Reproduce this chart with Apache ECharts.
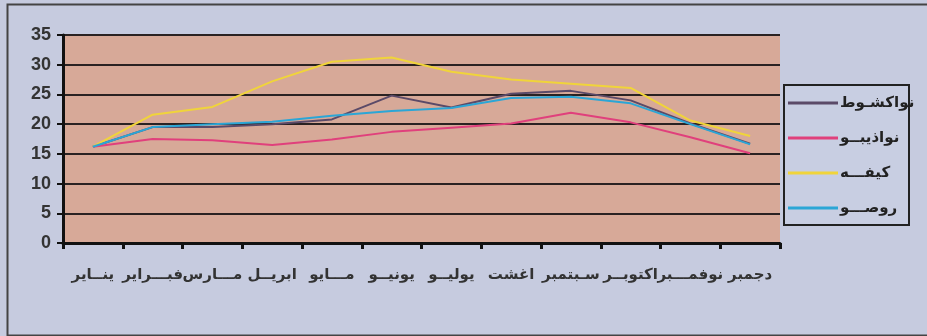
<!DOCTYPE html>
<html><head><meta charset="utf-8">
<script src="https://cdn.jsdelivr.net/npm/echarts@6/dist/echarts.min.js"></script>
<style>html,body{margin:0;padding:0;background:#c6cbdf;}#c{width:927px;height:336px;}</style>
</head><body><div id="c"></div>
<script>
const months = ['ينــاير','فبـــراير','مـــارس','ابريــل','مـــايو','يونيــو','يوليــو','اغشت','سـبتمبر','اكتوبــر','نوفمـــبر','دجمبر'];
const seriesNames = ['نواكشـوط','نواذيبــو','كيفـــه','روصـــو'];
const nouakchott = [16.2, 19.5, 19.5, 20.0, 20.8, 24.8, 22.8, 25.1, 25.6, 24.0, 20.1, 16.7];
const nouadhibou = [16.2, 17.5, 17.3, 16.5, 17.4, 18.7, 19.4, 20.1, 21.9, 20.3, 17.8, 15.1];
const kiffa      = [16.2, 21.6, 22.9, 27.2, 30.5, 31.2, 28.8, 27.5, 26.8, 26.1, 20.6, 18.0];
const rosso      = [16.2, 19.5, 20.0, 20.4, 21.4, 22.2, 22.7, 24.4, 24.6, 23.5, 20.0, 16.6];
const yTicks = [0, 5, 10, 15, 20, 25, 30, 35];

const colors = ['#5b4a68', '#e0407c', '#f0d43a', '#2ba6d6'];
const values = [nouakchott, nouadhibou, kiffa, rosso];

const chart = echarts.init(document.getElementById('c'));
chart.setOption({
  backgroundColor: '#c6cbdf',
  animation: false,
  graphic: [{
    type: 'rect', left: 5, top: 2, shape: {width: 925, height: 331},
    style: {fill: 'none', stroke: '#444', lineWidth: 2}, silent: true
  }, {
    type: 'rect', left: 783, top: 84, z: -1, shape: {width: 125, height: 140},
    style: {fill: 'rgba(200,206,226,0.8)', stroke: '#222', lineWidth: 2}, silent: true
  }],
  grid: {left: 63, right: 147, top: 35, bottom: 93, show: true,
         backgroundColor: '#d7a998', borderWidth: 0},
  legend: {
    orient: 'vertical', left: 788, top: 94,
    padding: 0, itemGap: 17,
    itemWidth: 50, itemHeight: 3, icon: 'rect',
    textStyle: {fontFamily: 'DejaVu Sans', fontWeight: 'bold', fontSize: 15, color: '#222',
                lineHeight: 18, padding: [0,0,0,-3]},
    data: seriesNames
  },
  xAxis: {
    type: 'category', data: months, boundaryGap: true,
    axisLine: {lineStyle: {color: '#111', width: 3}},
    axisTick: {show: true, length: 6, lineStyle: {color: '#111', width: 3}},
    axisLabel: {margin: 25, fontFamily: 'DejaVu Sans', fontWeight: 'bold', fontSize: 15, color: '#333', interval: 0},
    splitLine: {show: false}
  },
  yAxis: {
    type: 'value', min: 0, max: 35, interval: 5,
    axisLine: {show: true, lineStyle: {color: '#111', width: 3}},
    axisTick: {show: true, length: 6, lineStyle: {color: '#111', width: 2}},
    axisLabel: {margin: 12, fontFamily: 'Liberation Sans', fontWeight: 'bold', fontSize: 18, color: '#333',
                formatter: v => yTicks.includes(v) ? String(v) : ''},
    splitLine: {show: true, lineStyle: {color: '#2a2222', width: 2}}
  },
  series: seriesNames.map((n, i) => ({
    name: n, type: 'line', data: values[i], showSymbol: false, symbol: 'none',
    lineStyle: {color: colors[i], width: 2}, itemStyle: {color: colors[i]}
  }))
});
</script></body></html>
